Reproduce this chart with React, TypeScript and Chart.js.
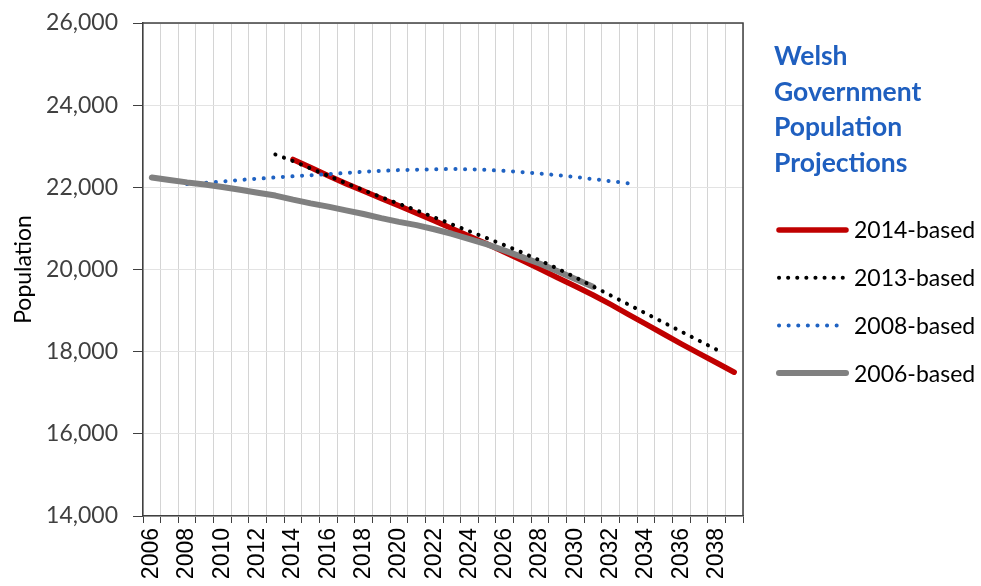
import React, { useEffect, useRef } from 'react';
import { Chart, registerables } from 'chart.js';

Chart.register(...registerables);

// Categories (years)
const years = [
  '2006', '2007', '2008', '2009', '2010', '2011', '2012', '2013', '2014', '2015',
  '2016', '2017', '2018', '2019', '2020', '2021', '2022', '2023', '2024', '2025',
  '2026', '2027', '2028', '2029', '2030', '2031', '2032', '2033', '2034', '2035',
  '2036', '2037', '2038', '2039',
];

// 2014-based projection (2014..2039)
const start2014 = 2014;
const based2014 = [
  22680, 22480, 22280, 22090, 21910, 21730, 21550, 21370, 21190, 21000,
  20810, 20620, 20420, 20220, 20010, 19800, 19590, 19380, 19150, 18910,
  18670, 18430, 18190, 17960, 17730, 17500,
];

// 2013-based projection (2013..2038)
const start2013 = 2013;
const based2013 = [
  22800, 22640, 22460, 22280, 22100, 21930, 21760, 21600, 21440, 21270,
  21100, 20930, 20760, 20590, 20410, 20220, 20020, 19810, 19590, 19370,
  19150, 18930, 18710, 18490, 18270, 18050,
];

// 2008-based projection (2008..2033)
const start2008 = 2008;
const based2008 = [
  22080, 22110, 22140, 22180, 22210, 22240, 22270, 22295, 22320, 22350,
  22380, 22400, 22420, 22430, 22440, 22445, 22440, 22425, 22400, 22370,
  22335, 22295, 22250, 22200, 22150, 22100,
];

// 2006-based projection (2006..2031)
const start2006 = 2006;
const based2006 = [
  22240, 22180, 22120, 22070, 22010, 21940, 21870, 21800, 21700, 21610,
  21530, 21440, 21350, 21250, 21160, 21080, 20980, 20870, 20740, 20610,
  20460, 20300, 20140, 19960, 19770, 19580,
];

const titleLines = ['Welsh', 'Government', 'Population', 'Projections'];
const legendLabels = ['2014-based', '2013-based', '2008-based', '2006-based'];

const RED = '#C00000';
const BLACK = '#000000';
const BLUE = '#1F62C2';
const GRAY = '#808080';

function pad(start: number, values: number[]): (number | null)[] {
  return years.map((y) => {
    const idx = Number(y) - start;
    return idx >= 0 && idx < values.length ? values[idx] : null;
  });
}

const legendStyles = [
  { color: RED, width: 5.5, dash: [] as number[] },
  { color: BLACK, width: 4, dash: [0.1, 9] },
  { color: BLUE, width: 4, dash: [0.1, 9.5] },
  { color: GRAY, width: 6, dash: [] as number[] },
];

const sidePlugin = {
  id: 'sidePanel',
  afterDraw(chart: any) {
    const ctx = chart.ctx as CanvasRenderingContext2D;
    const { left, top, right, bottom } = chart.chartArea;
    ctx.save();
    // frame top & right
    ctx.strokeStyle = '#404040';
    ctx.lineWidth = 1.5;
    ctx.setLineDash([]);
    ctx.beginPath();
    ctx.moveTo(left, top);
    ctx.lineTo(right, top);
    ctx.lineTo(right, bottom);
    ctx.stroke();

    // title
    ctx.fillStyle = '#1F5FBF';
    ctx.font = 'bold 26.5px Lato';
    ctx.textAlign = 'left';
    ctx.textBaseline = 'alphabetic';
    titleLines.forEach((t, i) => ctx.fillText(t, 774, 65 + i * 35.5));

    // legend
    legendLabels.forEach((label, i) => {
      const st = legendStyles[i];
      const y = 230 + i * 47.7;
      ctx.strokeStyle = st.color;
      ctx.lineWidth = st.width;
      ctx.lineCap = 'round';
      ctx.setLineDash(st.dash);
      ctx.beginPath();
      ctx.moveTo(779, y);
      ctx.lineTo(846, y);
      ctx.stroke();
      ctx.setLineDash([]);
      ctx.fillStyle = '#000000';
      ctx.font = '23px Lato';
      ctx.textBaseline = 'middle';
      ctx.fillText(label, 854, y + 1);
    });
    ctx.restore();
  },
};

export default function App() {
  const canvasRef = useRef<HTMLCanvasElement | null>(null);

  useEffect(() => {
    document.body.style.margin = '0';
    const canvas = canvasRef.current;
    if (!canvas) return;
    const chart = new Chart(canvas, {
      type: 'line',
      data: {
        labels: years,
        datasets: [
          {
            label: '2013-based',
            data: pad(start2013, based2013),
            borderColor: BLACK,
            borderWidth: 4,
            borderDash: [0.1, 9],
            borderCapStyle: 'round',
            pointRadius: 0,
            fill: false,
          },
          {
            label: '2006-based',
            data: pad(start2006, based2006),
            borderColor: GRAY,
            borderWidth: 6,
            borderCapStyle: 'round',
            borderJoinStyle: 'round',
            pointRadius: 0,
            fill: false,
          },
          {
            label: '2008-based',
            data: pad(start2008, based2008),
            borderColor: BLUE,
            borderWidth: 4,
            borderDash: [0.1, 9.5],
            borderCapStyle: 'round',
            pointRadius: 0,
            fill: false,
          },
          {
            label: '2014-based',
            data: pad(start2014, based2014),
            borderColor: RED,
            borderWidth: 5.5,
            borderCapStyle: 'round',
            borderJoinStyle: 'round',
            pointRadius: 0,
            fill: false,
          },
        ],
      },
      options: {
        responsive: false,
        animation: false,
        devicePixelRatio: 1,
        layout: { padding: { left: 0, top: 23, right: 238, bottom: 0 } },
        plugins: {
          legend: { display: false },
          tooltip: { enabled: false },
        },
        scales: {
          x: {
            type: 'category',
            offset: true,
            grid: {
              offset: true,
              color: '#D4D4D4',
              lineWidth: 1,
              tickColor: '#404040',
              tickLength: 7,
              drawTicks: true,
            },
            border: { color: '#404040', width: 1.5 },
            ticks: {
              autoSkip: false,
              minRotation: 90,
              maxRotation: 90,
              padding: 5,
              color: '#000000',
              font: { family: 'Liberation Sans', size: 23 },
              callback: (_v: any, idx: number) => (idx % 2 === 0 ? years[idx] : ''),
            },
            afterFit: (scale: any) => {
              scale.height = 70;
              scale.paddingLeft = 0;
              scale.paddingRight = 0;
            },
          },
          y: {
            min: 14000,
            max: 26000,
            grid: {
              color: '#E3E3E3',
              lineWidth: 1,
              tickColor: '#404040',
              tickLength: 10,
            },
            border: { color: '#404040', width: 1.5 },
            ticks: {
              stepSize: 2000,
              padding: 15,
              color: '#404040',
              font: { family: 'Lato', size: 23 },
              callback: (v: any) => Number(v).toLocaleString('en-US'),
            },
            title: {
              display: true,
              text: 'Population',
              color: '#000000',
              font: { family: 'Lato', size: 23 },
              padding: { top: 10, bottom: 0 },
            },
            afterFit: (scale: any) => {
              scale.width = 143;
              scale.paddingTop = 0;
              scale.paddingBottom = 0;
            },
          },
        },
      },
      plugins: [sidePlugin],
    } as any);
    return () => chart.destroy();
  }, []);

  return (
    <div style={{ position: 'absolute', left: 0, top: 0, width: 981, height: 586, background: '#fff' }}>
      <canvas ref={canvasRef} width={981} height={586} />
    </div>
  );
}
